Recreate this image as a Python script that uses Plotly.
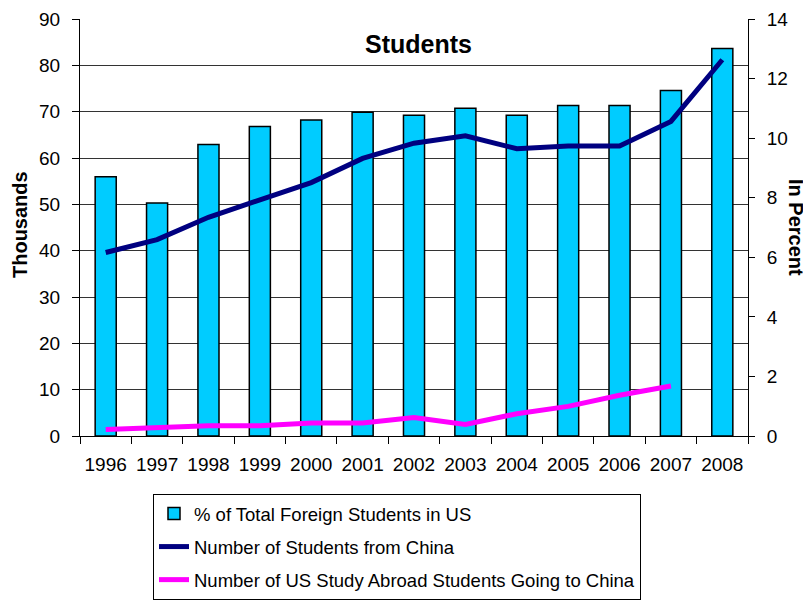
import plotly.graph_objects as go

years = ["1996", "1997", "1998", "1999", "2000", "2001", "2002",
         "2003", "2004", "2005", "2006", "2007", "2008"]
pct_foreign = [8.70, 7.82, 9.79, 10.39, 10.61, 10.87, 10.77,
               11.00, 10.77, 11.10, 11.10, 11.60, 13.01]
china_students = [39.6, 42.4, 47.2, 50.9, 54.7, 59.9, 63.2,
                  64.8, 62.0, 62.6, 62.6, 67.9, 81.2]
us_to_china = [1.4, 1.8, 2.2, 2.2, 2.8, 2.8, 4.0,
               2.5, 4.8, 6.4, 8.8, 10.8, None]

FONT = "Liberation Sans, Arial, sans-serif"

# the page body has an 8px margin; figure is sized to fill the rest
OFF = 8
W, H = 811 - OFF, 601 - OFF
# plot area in page pixels -> figure pixels
L, R, T, B = 80 - OFF, 748 - OFF, 19 - OFF, 436 - OFF

fig = go.Figure()
fig.add_trace(go.Bar(
    x=years, y=pct_foreign, name="% of Total Foreign Students in US",
    marker=dict(color="#00CCFF", line=dict(color="black", width=1.5)),
    width=0.41, yaxis="y", legendgroup="a",
))
fig.add_trace(go.Scatter(
    x=years, y=china_students, name="Number of Students from China",
    mode="lines", line=dict(color="#000080", width=5),
    yaxis="y2", legendgroup="b",
))
fig.add_trace(go.Scatter(
    x=years, y=us_to_china, name="Number of US Study Abroad Students Going to China",
    mode="lines", line=dict(color="#FF00FF", width=5),
    yaxis="y2", legendgroup="c",
))

fig.update_layout(
    template="none",
    width=W, height=H,
    margin=dict(l=L, r=W - R, t=T, b=H - B, autoexpand=False),
    paper_bgcolor="white", plot_bgcolor="white",
    font=dict(family=FONT, size=19, color="black"),
    showlegend=True,
    xaxis=dict(
        type="category", tickson="boundaries", ticks="outside", ticklen=7,
        tickcolor="black", showline=True, linecolor="black", linewidth=1,
        showgrid=False, tickfont=dict(size=19), tickangle=0,
        ticklabelstandoff=11, automargin=False, zeroline=False,
    ),
    yaxis=dict(
        side="right", range=[0, 14], dtick=2, showgrid=False,
        showline=True, linecolor="black", linewidth=1,
        ticks="outside", ticklen=6, tickcolor="black",
        zeroline=False, ticklabelstandoff=8, automargin=False,
    ),
    yaxis2=dict(
        side="left", overlaying="y", range=[0, 90], dtick=10,
        showgrid=True, gridcolor="#333333", gridwidth=1,
        showline=True, linecolor="black", linewidth=1,
        ticks="outside", ticklen=7, tickcolor="black",
        zeroline=False, ticklabelstandoff=8, automargin=False,
    ),
    yaxis3=dict(
        side="right", overlaying="y", range=[0, 14], dtick=2, showgrid=False,
        showline=False, ticks="inside", ticklen=7, tickcolor="black",
        showticklabels=False, zeroline=False, automargin=False,
    ),
    legend=dict(
        x=(153 - OFF - L) / (R - L), y=(B - (494 - OFF)) / (B - T),
        xanchor="left", yanchor="top",
        bordercolor="black", borderwidth=1, bgcolor="white",
        font=dict(size=18.5), traceorder="grouped", tracegroupgap=6,
        itemwidth=30,
    ),
    bargap=0.59,
)

def px_ann(text, x, y, size, angle=0):
    # x, y given in page pixels
    fx, fy = x - OFF, y - OFF
    return dict(text=text, x=(fx - L) / (R - L), y=(B - fy) / (B - T),
                xref="paper", yref="paper", xanchor="center", yanchor="middle",
                textangle=angle, showarrow=False,
                font=dict(family=FONT, size=size, color="black"))

fig.update_layout(annotations=[
    px_ann("<b>Students</b>", 418, 44, 25),
    px_ann("<b>Thousands</b>", 20, 225, 20, -90),
    px_ann("<b>In Percent</b>", 796, 228, 20, 90),
])

fig.write_html("out.html")
